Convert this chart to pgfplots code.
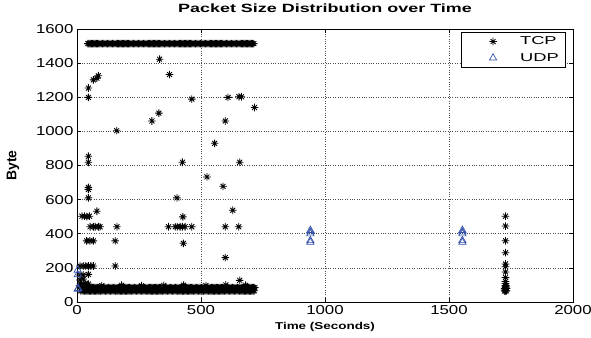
\documentclass[border=0pt]{standalone}
\usepackage{pgfplots}
\pgfplotsset{compat=1.18}
\usepackage{fontspec}
\setmainfont{Liberation Sans}
\newfontfamily\tickfont{Liberation Sans}[FakeStretch=1.3]
\newfontfamily\titlefont{Liberation Sans}[FakeStretch=1.5]
\newfontfamily\xlabfont{Liberation Sans}[FakeStretch=1.35]
\newfontfamily\legfont{Liberation Sans}[FakeStretch=1.6]
\definecolor{udpblue}{RGB}{50,80,170}
\pgfdeclareplotmark{mstar}{%
  \pgfpathmoveto{\pgfqpoint{-\pgfplotmarksize}{0pt}}\pgfpathlineto{\pgfqpoint{\pgfplotmarksize}{0pt}}%
  \pgfpathmoveto{\pgfqpoint{0pt}{-\pgfplotmarksize}}\pgfpathlineto{\pgfqpoint{0pt}{\pgfplotmarksize}}%
  \pgfpathmoveto{\pgfqpoint{-0.65\pgfplotmarksize}{-0.65\pgfplotmarksize}}\pgfpathlineto{\pgfqpoint{0.65\pgfplotmarksize}{0.65\pgfplotmarksize}}%
  \pgfpathmoveto{\pgfqpoint{-0.65\pgfplotmarksize}{0.65\pgfplotmarksize}}\pgfpathlineto{\pgfqpoint{0.65\pgfplotmarksize}{-0.65\pgfplotmarksize}}%
  \pgfusepathqstroke}
\begin{document}
\begin{tikzpicture}
\begin{axis}[
  scale only axis, width=496bp, height=273bp,
  xmin=0, xmax=2000, ymin=0, ymax=1600,
  xtick={0,500,1000,1500,2000},
  ytick={0,200,400,600,800,1000,1200,1400,1600},
  tick align=inside, major tick length=4bp,
  axis line style={black, line width=0.8pt},
  tick style={black, line width=0.6pt},
  grid=major, grid style={dotted, black!70, line width=0.6pt},
  /pgf/number format/assume math mode=true,
  /pgf/number format/1000 sep={},
  ticklabel style={font=\tickfont\fontsize{13}{15}\selectfont},
  title={Packet Size Distribution over Time},
  title style={font=\titlefont\bfseries\fontsize{12}{14}\selectfont, at={(axis description cs:0.5,1)}, anchor=center, yshift=15bp},
  xlabel={Time (Seconds)},
  xlabel style={font=\xlabfont\bfseries\fontsize{10}{12}\selectfont, at={(axis description cs:0.5,-0.092)}, anchor=center},
  ylabel={Byte},
  ylabel style={font=\bfseries\fontsize{14}{16}\selectfont, at={(axis description cs:-0.129,0.5)}, anchor=center},
  legend style={at={(0.986,0.989)}, anchor=north east, draw=black, line width=0.6pt, fill=white,
    font=\legfont\fontsize{11.5}{13}\selectfont, inner xsep=4bp, inner ysep=3bp, row sep=4bp,
    nodes={inner xsep=3bp, inner ysep=1.5bp}, cells={anchor=west}},
  legend image code/.code={\path[draw=none,fill=none] (0bp,-2bp) rectangle (52bp,2bp); \draw[#1] plot coordinates {(28bp,0bp)};},
  clip=false,
]
% TCP
\addplot[only marks, mark=mstar, mark size=3.8bp, black, line width=0.85pt] coordinates {
(44,1514)(48,1514)(53,1514)(58,1514)(63,1514)(68,1514)(73,1514)(78,1514)(83,1514)(88,1514)(93,1514)
(98,1514)(103,1514)(108,1514)(113,1514)(118,1514)(123,1514)(128,1514)(133,1514)(138,1514)(143,1514)
(148,1514)(153,1514)(158,1514)(163,1514)(168,1514)(173,1514)(178,1514)(183,1514)(188,1514)(193,1514)
(198,1514)(203,1514)(208,1514)(213,1514)(218,1514)(223,1514)(228,1514)(233,1514)(238,1514)(243,1514)
(248,1514)(253,1514)(258,1514)(263,1514)(268,1514)(273,1514)(278,1514)(283,1514)(288,1514)(293,1514)
(298,1514)(303,1514)(308,1514)(313,1514)(318,1514)(323,1514)(328,1514)(333,1514)(338,1514)(343,1514)
(348,1514)(353,1514)(358,1514)(363,1514)(368,1514)(373,1514)(378,1514)(383,1514)(388,1514)(393,1514)
(398,1514)(403,1514)(408,1514)(413,1514)(418,1514)(423,1514)(428,1514)(433,1514)(438,1514)(443,1514)
(448,1514)(453,1514)(458,1514)(463,1514)(468,1514)(473,1514)(478,1514)(483,1514)(488,1514)(493,1514)
(498,1514)(503,1514)(508,1514)(513,1514)(518,1514)(523,1514)(528,1514)(533,1514)(538,1514)(543,1514)
(548,1514)(553,1514)(558,1514)(563,1514)(568,1514)(573,1514)(578,1514)(583,1514)(588,1514)(593,1514)
(598,1514)(603,1514)(608,1514)(613,1514)(618,1514)(623,1514)(628,1514)(633,1514)(638,1514)(643,1514)
(648,1514)(653,1514)(658,1514)(663,1514)(668,1514)(673,1514)(678,1514)(683,1514)(688,1514)(693,1514)
(698,1514)(703,1514)(708,1514)(713,1514)
(15,66)(20,66)(25,66)(30,66)(35,66)(40,66)(45,66)(50,66)(55,66)(60,66)
(65,66)(70,66)(75,66)(80,66)(85,66)(90,66)(95,66)(100,66)(105,66)(110,66)
(115,66)(120,66)(125,66)(130,66)(135,66)(140,66)(145,66)(150,66)(155,66)(160,66)
(165,66)(170,66)(175,66)(180,66)(185,66)(190,66)(195,66)(200,66)(205,66)(210,66)
(215,66)(220,66)(225,66)(230,66)(235,66)(240,66)(245,66)(250,66)(255,66)(260,66)
(265,66)(270,66)(275,66)(280,66)(285,66)(290,66)(295,66)(300,66)(305,66)(310,66)
(315,66)(320,66)(325,66)(330,66)(335,66)(340,66)(345,66)(350,66)(355,66)(360,66)
(365,66)(370,66)(375,66)(380,66)(385,66)(390,66)(395,66)(400,66)(405,66)(410,66)
(415,66)(420,66)(425,66)(430,66)(435,66)(440,66)(445,66)(450,66)(455,66)(460,66)
(465,66)(470,66)(475,66)(480,66)(485,66)(490,66)(495,66)(500,66)(505,66)(510,66)
(515,66)(520,66)(525,66)(530,66)(535,66)(540,66)(545,66)(550,66)(555,66)(560,66)
(565,66)(570,66)(575,66)(580,66)(585,66)(590,66)(595,66)(600,66)(605,66)(610,66)
(615,66)(620,66)(625,66)(630,66)(635,66)(640,66)(645,66)(650,66)(655,66)(660,66)
(665,66)(670,66)(675,66)(680,66)(685,66)(690,66)(695,66)(700,66)(705,66)(710,66)(715,66)
(17,84)(22,84)(27,84)(32,84)(37,84)(42,84)(47,84)(52,84)(57,84)(62,84)
(67,84)(72,84)(77,84)(82,84)(87,84)(92,84)(97,84)(102,84)(107,84)(112,84)
(117,84)(122,84)(127,84)(132,84)(137,84)(142,84)(147,84)(152,84)(157,84)(162,84)
(167,84)(172,84)(177,84)(182,84)(187,84)(192,84)(197,84)(202,84)(207,84)(212,84)
(217,84)(222,84)(227,84)(232,84)(237,84)(242,84)(247,84)(252,84)(257,84)(262,84)
(267,84)(272,84)(277,84)(282,84)(287,84)(292,84)(297,84)(302,84)(307,84)(312,84)
(317,84)(322,84)(327,84)(332,84)(337,84)(342,84)(347,84)(352,84)(357,84)(362,84)
(367,84)(372,84)(377,84)(382,84)(387,84)(392,84)(397,84)(402,84)(407,84)(412,84)
(417,84)(422,84)(427,84)(432,84)(437,84)(442,84)(447,84)(452,84)(457,84)(462,84)
(467,84)(472,84)(477,84)(482,84)(487,84)(492,84)(497,84)(502,84)(507,84)(512,84)
(517,84)(522,84)(527,84)(532,84)(537,84)(542,84)(547,84)(552,84)(557,84)(562,84)
(567,84)(572,84)(577,84)(582,84)(587,84)(592,84)(597,84)(602,84)(607,84)(612,84)
(617,84)(622,84)(627,84)(632,84)(637,84)(642,84)(647,84)(652,84)(657,84)(662,84)
(667,84)(672,84)(677,84)(682,84)(687,84)(692,84)(697,84)(702,84)(707,84)(712,84)(717,84)
(100,96)(180,98)(260,95)(350,97)(430,99)(520,96)(600,100)(680,98)
(10,95)(14,100)(18,92)(25,105)(35,110)(46,105)
(12,129)(25,135)(12,158)(25,158)(46,162)
(12,211)(25,211)(35,211)(46,211)(56,211)(66,211)(154,211)
(39,358)(52,358)(66,358)(154,358)(429,344)
(53,441)(66,441)(73,441)(86,441)(93,441)(161,441)(369,441)(396,441)(404,441)(416,441)(425,441)(436,441)(463,441)(598,441)(652,441)
(20,503)(30,503)(40,500)(50,503)(427,499)
(80,532)(628,538)
(46,610)(403,610)(46,660)(46,672)(589,678)(524,733)
(46,819)(46,854)(425,819)(656,819)(555,930)
(160,1004)(302,1061)(598,1061)(330,1107)(716,1140)
(46,1199)(463,1189)(609,1199)(653,1203)(663,1203)
(46,1254)(66,1302)(80,1312)(86,1326)(373,1333)(333,1423)
(598,260)(656,127)
(1728,503)(1728,445)(1728,359)(1728,289)(1728,223)(1728,207)(1728,176)(1728,143)(1728,120)
(1724,65)(1728,65)(1732,65)(1724,80)(1728,80)(1732,80)(1726,95)(1730,95)(1728,108)(1726,72)(1730,88)
};
\addlegendentry{TCP}
% UDP
\addplot[only marks, mark=triangle, mark size=4.2bp, udpblue, line width=0.7pt] coordinates {
(941,420)(941,410)(941,400)(941,360)(941,350)
(1554,420)(1554,410)(1554,400)(1554,360)(1554,350)
(3,187)(3,160)(5,80)(3,75)
};
\addlegendentry{UDP}
\end{axis}
\pgfresetboundingbox
\path ([shift={(-77bp,-36bp)}]current axis.south west) rectangle ([shift={(18bp,29bp)}]current axis.north east);
\end{tikzpicture}
\end{document}
